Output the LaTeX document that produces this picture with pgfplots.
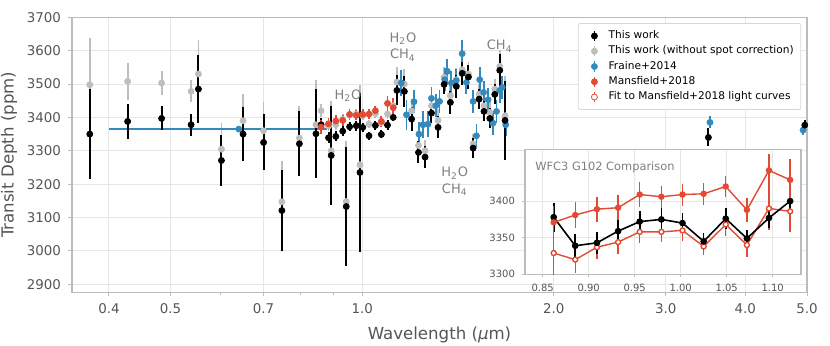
\documentclass[border=0pt]{standalone}
\usepackage{fontspec}
\setmainfont{DejaVu Sans}
\usepackage{pgfplots}
\usepackage{pgfplotstable}
\pgfplotsset{compat=1.18}

\definecolor{mblue}{HTML}{348ABD}
\definecolor{mred}{HTML}{E24A33}
\definecolor{mgrey}{HTML}{BEBEBE}
\definecolor{gridc}{HTML}{E6E6E6}
\definecolor{framec}{HTML}{BCBCBC}
\definecolor{txt}{HTML}{555555}
\definecolor{anno}{HTML}{808080}

% This work
\pgfplotstableread{
x y e
0.3733 3350 135
0.428 3388 52
0.484 3397 36
0.5385 3378 33
0.553 3485 102
0.601 3271 77
0.650 3350 81
0.700 3325 84
0.748 3121 122
0.797 3321 97
0.846 3351 134
0.862 3378 20
0.8854 3339 16
0.894 3286 148
0.909 3343 15
0.932 3359 15
0.944 3133 179
0.9555 3372 14
0.979 3375 15
0.992 3235 239
1.002 3370 14
1.025 3345 12
1.049 3376 14
1.072 3349 12
1.096 3377 14
1.119 3400 12
1.134 3481 45
1.165 3478 46
1.196 3395 35
1.226 3295 33
1.2555 3281 33
1.285 3413 30
1.316 3370 33
1.345 3499 30
1.376 3445 35
1.406 3493 35
1.436 3532 35
1.469 3521 35
1.494 3308 30
1.527 3455 30
1.554 3418 30
1.587 3397 30
1.616 3469 30
1.645 3541 48
1.677 3391 118
3.50 3340 27
4.96 3377 16
}\thiswork

% This work without spot correction
\pgfplotstableread{
x y e
0.3733 3498 140
0.428 3508 55
0.484 3503 35
0.5385 3478 33
0.553 3530 103
0.601 3305 78
0.650 3390 81
0.700 3360 85
0.748 3147 123
0.797 3338 97
0.846 3378 135
0.862 3420 20
0.8854 3374 16
0.894 3300 150
0.909 3378 15
0.932 3394 15
0.944 3148 180
0.9555 3407 14
0.979 3410 15
0.992 3258 240
1.002 3405 14
1.025 3380 12
1.049 3411 14
1.072 3384 12
1.096 3410 14
1.119 3435 12
1.134 3506 45
1.165 3500 46
1.196 3420 35
1.226 3316 33
1.2555 3300 33
1.285 3435 30
1.316 3391 33
1.345 3520 30
1.376 3465 35
1.406 3513 35
1.436 3543 35
1.469 3530 35
1.494 3321 30
1.527 3470 30
1.554 3435 30
1.587 3415 30
1.616 3485 30
1.645 3553 48
1.677 3405 118
}\nospot

% Fraine+2014
\pgfplotstableread{
x y e
0.64 3365 0
1.152 3503 40
1.174 3408 45
1.206 3447 35
1.228 3350 35
1.246 3378 40
1.269 3380 40
1.285 3457 35
1.305 3435 35
1.323 3448 35
1.348 3513 35
1.361 3538 38
1.381 3503 35
1.405 3510 35
1.436 3591 40
1.458 3505 35
1.494 3448 35
1.512 3345 35
1.530 3513 38
1.552 3475 35
1.577 3453 35
1.605 3383 35
1.626 3418 35
1.645 3481 38
1.660 3490 35
1.681 3378 35
3.52 3385 18
4.93 3362 15
}\fraine

% Mansfield+2018
\pgfplotstableread{
x y e
0.862 3371 22
0.8854 3381 18
0.909 3389 17
0.932 3391 17
0.9555 3409 17
0.979 3406 15
1.002 3409 15
1.025 3410 15
1.049 3420 15
1.072 3388 16
1.096 3442 23
1.119 3429 28
}\mansfield

% Fit to Mansfield+2018 light curves
\pgfplotstableread{
x y e
0.862 3329 33
0.8854 3320 18
0.909 3337 16
0.932 3344 16
0.9555 3358 15
0.979 3358 14
1.002 3360 14
1.025 3338 12
1.049 3368 15
1.072 3340 16
1.096 3390 30
1.119 3386 28
}\mfit

% This work, G102 range
\pgfplotstableread{
x y e
0.862 3378 20
0.8854 3339 16
0.909 3343 15
0.932 3359 15
0.9555 3372 14
0.979 3375 15
1.002 3370 14
1.025 3345 12
1.049 3376 14
1.072 3349 12
1.096 3377 14
1.119 3400 12
}\gonezerotwo

\pgfplotsset{
  errleg/.style={legend image code/.code={%
    \draw[##1,draw=none,mark=none] (0cm,0cm) -- (0.41cm,0cm);
    \draw[##1,mark=none,line width=0.8pt] (0.23cm,-2.6pt) -- (0.23cm,2.6pt);
    \draw[##1] plot coordinates {(0.23cm,0cm)};}},
  ebars/.style={error bars/.cd, y dir=both, y explicit, error mark=none,
    error bar style={line width=#1}},
}

\begin{document}
\begin{tikzpicture}
\begin{axis}[
    scale only axis, width=367.5pt, height=137.5pt,
    xmode=log, xmin=0.35, xmax=5, ymin=2876, ymax=3700,
    xtick={0.4,0.5,0.7,1,2,3,4,5},
    xticklabels={0.4,0.5,0.7,1.0,2.0,3.0,4.0,5.0},
    minor xtick={0.6,0.8,0.9},
    ytick={2900,3000,...,3700},
    xtick pos=bottom, ytick pos=left, tick align=outside,
    major tick length=2pt, minor tick length=1.3pt,
    tick style={framec, line width=0.5pt},
    axis line style={framec, line width=0.6pt},
    grid=major, grid style={gridc, line width=0.5pt},
    /pgf/number format/assume math mode=true,
    /pgf/number format/1000 sep={},
    ticklabel style={txt, font=\fontsize{6.7}{8}\selectfont},
    xlabel={Wavelength (\textit{μ}m)}, ylabel={Transit Depth (ppm)},
    label style={txt, font=\fontsize{8.3}{10}\selectfont},
    ylabel style={yshift=-2pt},
    legend style={at={(0.992,0.979)}, anchor=north east, draw=framec!60,
      fill=white, rounded corners=1pt, font=\fontsize{5.3}{7.85}\selectfont,
      inner sep=1.5pt, row sep=-1.9pt},
    legend cell align=left,
]
\addlegendimage{errleg, black, only marks, mark=*, mark size=1.5pt}
\addlegendentry{This work}
\addlegendimage{errleg, mgrey, only marks, mark=*, mark size=1.5pt}
\addlegendentry{This work (without spot correction)}
\addlegendimage{errleg, mblue, only marks, mark=*, mark size=1.5pt}
\addlegendentry{Fraine+2014}
\addlegendimage{errleg, mred, only marks, mark=*, mark size=1.5pt}
\addlegendentry{Mansfield+2018}
\addlegendimage{errleg, mred, only marks, mark=*, mark size=1.5pt, mark options={fill=white}}
\addlegendentry{Fit to Mansfield+2018 light curves}

\addplot[forget plot, only marks, mgrey, mark=*, mark size=1.5pt, ebars=0.9pt]
  table[x=x, y=y, y error=e] {\nospot};
\addplot[forget plot, mblue, line width=0.9pt] coordinates {(0.40,3365) (0.88,3365)};
\addplot[forget plot, only marks, mblue, mark=*, mark size=1.5pt, ebars=0.9pt]
  table[x=x, y=y, y error=e] {\fraine};
\addplot[forget plot, only marks, black, mark=*, mark size=1.5pt, ebars=1pt]
  table[x=x, y=y, y error=e] {\thiswork};
\addplot[forget plot, only marks, mred, mark=*, mark size=1.5pt, ebars=0.9pt]
  table[x=x, y=y, y error=e] {\mansfield};

\node[anno, font=\fontsize{6.5}{8.3}\selectfont] at (axis cs:0.95,3465) {H\textsubscript{2}O};
\node[anno, align=center, font=\fontsize{6.5}{8.3}\selectfont] at (axis cs:1.159,3611) {H\textsubscript{2}O\\CH\textsubscript{4}};
\node[anno, font=\fontsize{6.5}{8.3}\selectfont] at (axis cs:1.645,3613) {CH\textsubscript{4}};
\node[anno, align=center, font=\fontsize{6.5}{8.3}\selectfont] at (axis cs:1.398,3209) {H\textsubscript{2}O\\CH\textsubscript{4}};
\end{axis}

\begin{axis}[
    at={(226.5pt,9pt)}, anchor=south west,
    scale only axis, width=138pt, height=62.2pt,
    xmin=0.8308, xmax=1.1308, ymin=3300, ymax=3470,
    xtick={0.85,0.9,0.95,1,1.05,1.1},
    ytick={3300,3350,3400},
    xtick pos=bottom, ytick pos=left, tick align=outside,
    major tick length=1.5pt,
    tick style={framec, line width=0.5pt},
    axis line style={framec, line width=0.6pt},
    axis background/.style={fill=white},
    grid=major, grid style={gridc, line width=0.5pt},
    /pgf/number format/assume math mode=true,
    /pgf/number format/1000 sep={},
    ticklabel style={txt, font=\fontsize{5}{6}\selectfont},
    xticklabel style={/pgf/number format/.cd, fixed, fixed zerofill, precision=2},
]
\addplot[mred, line width=0.7pt, mark=*, mark size=1.25pt, mark options={fill=white}, ebars=0.7pt]
  table[x=x, y=y, y error=e] {\mfit};
\addplot[black, line width=0.8pt, mark=*, mark size=1.25pt, ebars=0.8pt]
  table[x=x, y=y, y error=e] {\gonezerotwo};
\addplot[mred, line width=0.7pt, mark=*, mark size=1.25pt, ebars=0.7pt]
  table[x=x, y=y, y error=e] {\mansfield};
\node[anno, anchor=west, font=\fontsize{5.7}{7}\selectfont] at (rel axis cs:0.012,0.863) {WFC3 G102 Comparison};
\end{axis}

\pgfresetboundingbox
\path[use as bounding box] (-36pt,-26.85pt) rectangle (379pt,146.15pt);
\end{tikzpicture}
\end{document}
